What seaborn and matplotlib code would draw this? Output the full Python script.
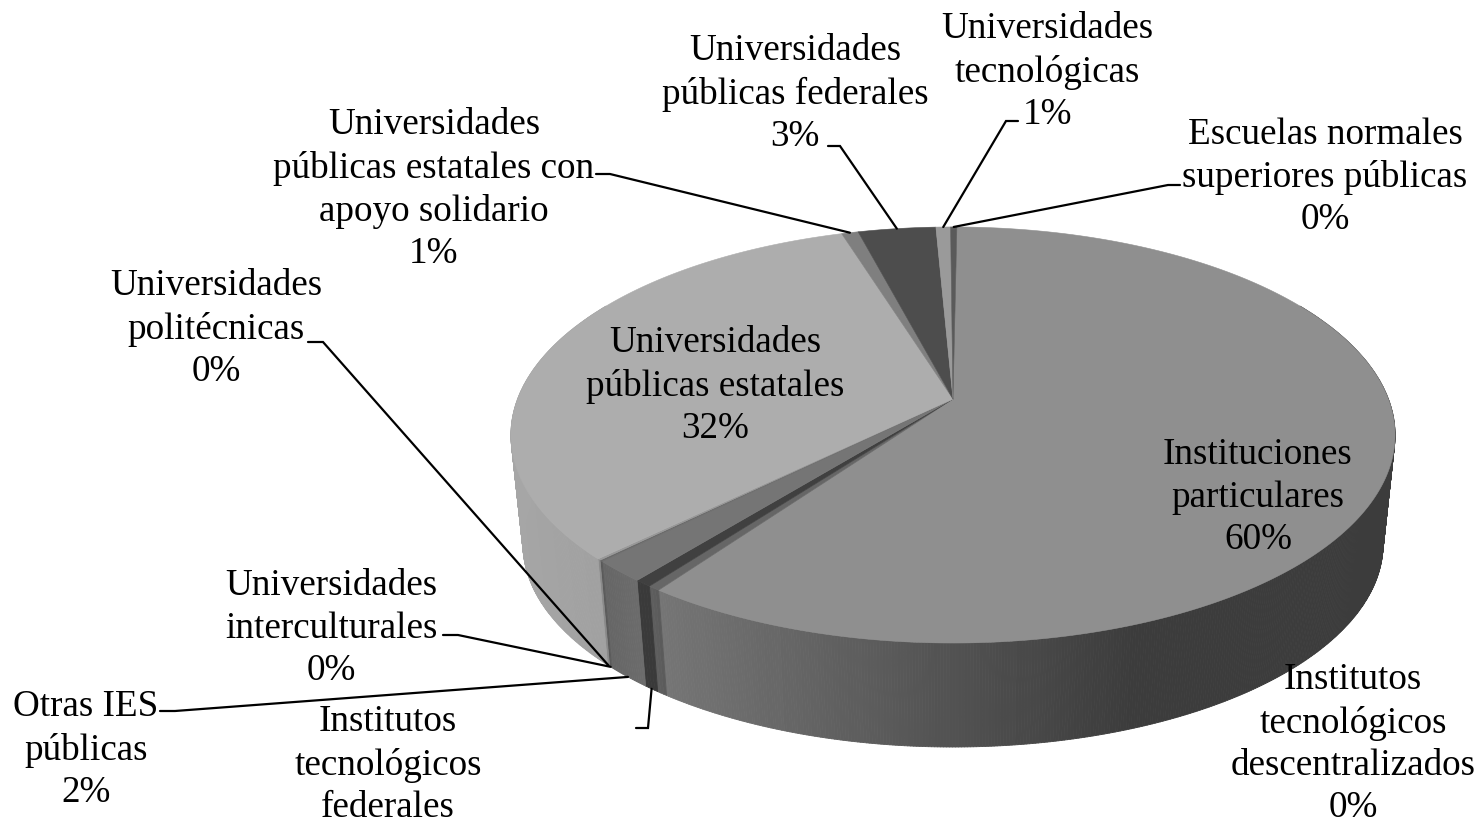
import numpy as np
import matplotlib
matplotlib.use("Agg")
import matplotlib.pyplot as plt
import seaborn as sns
from matplotlib.collections import PolyCollection

# clockwise from the top of the pie
names = ["Instituciones\nparticulares",
         "Institutos\ntecnológicos\ndescentralizados",
         "Institutos\ntecnológicos\nfederales",
         "Otras IES\npúblicas",
         "Universidades\ninterculturales",
         "Universidades\npolitécnicas",
         "Universidades\npúblicas estatales",
         "Universidades\npúblicas estatales con\napoyo solidario",
         "Universidades\npúblicas federales",
         "Universidades\ntecnológicas",
         "Escuelas normales\nsuperiores públicas"]
values = [59.7, 0.39, 0.55, 1.7, 0.11, 0.11, 32.46, 0.72, 3.36, 0.63, 0.27]
top_colors = ["#8f8f8f", "#666666", "#404040", "#757575", "#6a6a6a", "#989898",
              "#adadad", "#7f7f7f", "#4d4d4d", "#9a9a9a", "#5a5a5a"]
side_left = ["#757575", "#5f5f5f", "#3a3a3a", "#666666", "#5a5a5a", "#8a8a8a",
             "#a6a6a6", "#777777", "#444444", "#909090", "#505050"]
side_right = ["#3c3c3c", "#5a5a5a", "#3a3a3a", "#6c6c6c", "#5a5a5a", "#8a8a8a",
              "#a0a0a0", "#777777", "#444444", "#909090", "#505050"]

# label layout: centre x, y of the first line, elbow of the leader (None = no leader)
label_x = [1258, 1353, 388, 86, 331, 216, 715, 434, 795, 1047, 1325]
label_y = [453, 678, 720, 705, 584, 284, 341, 123, 49, 27, 132]
show_value = [True, True, False, True, True, True, True, True, True, True, True]
leader_elbow = [None, None, (648, 729), (175, 712), (458, 636), (323, 343), None,
                (610, 175), (840, 147), (1006, 122), (1168, 186)]
leader_end = [None, None, (636, 729), (160, 712), (443, 636), (308, 343), None,
              (596, 175), (828, 147), (1018, 122), (1180, 186)]

START_ANGLE = 0.6


def project(theta, bottom=False):
    # unit circle seen in perspective, theta in degrees clockwise from the top
    t = np.radians(theta)
    u, v = np.sin(t), -np.cos(t)
    w = 1 - 0.173 * v
    x = 953 + 435.4 * u / w
    y = (400 + 132.6 * v) / w
    if bottom:
        x = 953 + (x - 953) * 430 / 442
        y = 545 + (y - 436) * 203 / 208
    return x, y


sns.set_theme(style="white")
plt.rcParams["font.family"] = ["Liberation Serif", "DejaVu Serif"]

fig = plt.figure(figsize=(14.82, 8.2), dpi=100)
ax = fig.add_axes([0, 0, 1, 1])
ax.set_xlim(0, 1482)
ax.set_ylim(820, 0)
ax.set_axis_off()

edges = START_ANGLE + np.cumsum([0] + values) * 3.6

side_polys, side_cols = [], []
for i in range(len(values)):
    a, b = edges[i], edges[i + 1]
    a, b = max(a, 60), min(b, 300)
    if b <= a:
        continue
    steps = np.linspace(a, b, max(int((b - a) * 3), 2))
    xs = project(steps)[0]
    x0, x1 = xs.min(), min(xs.max(), 1130)
    ramp = sns.blend_palette([side_left[i], side_right[i]], 64)
    for s0, s1 in zip(steps[:-1], steps[1:]):
        p0, p1 = project(s0), project(s1)
        q0, q1 = project(s0, True), project(s1, True)
        side_polys.append([p0, p1, q1, q0])
        frac = np.clip(((p0[0] + p1[0]) / 2 - x0) / max(x1 - x0, 1), 0, 1)
        side_cols.append(ramp[int(frac * 63)])
ax.add_collection(PolyCollection(side_polys, facecolors=side_cols, edgecolors=side_cols,
                                 linewidths=0.6, zorder=1))

top_polys = []
for i in range(len(values)):
    arc = np.linspace(edges[i], edges[i + 1], max(int(values[i] * 3.6 * 2), 3))
    xs, ys = project(arc)
    top_polys.append([(953, 400)] + list(zip(xs, ys)))
ax.add_collection(PolyCollection(top_polys, facecolors=top_colors, edgecolors=top_colors,
                                 linewidths=0.4, zorder=2))

for i, name in enumerate(names):
    txt = name
    if show_value[i]:
        txt += "\n" + str(round(values[i])) + "%"
    ax.text(label_x[i], label_y[i] - 15, txt, ha="center", va="top", fontsize=26.7,
            color="black", linespacing=1.3, zorder=5, clip_on=False)
    if leader_elbow[i] is not None:
        mid = (edges[i] + edges[i + 1]) / 2
        front = 90 < mid < 270
        sx, sy = project(mid, front)
        ax.plot([sx, leader_elbow[i][0], leader_end[i][0]],
                [sy, leader_elbow[i][1], leader_end[i][1]],
                color="black", lw=1.6, zorder=4, solid_joinstyle="miter")

fig.savefig("out.png", dpi=100)
